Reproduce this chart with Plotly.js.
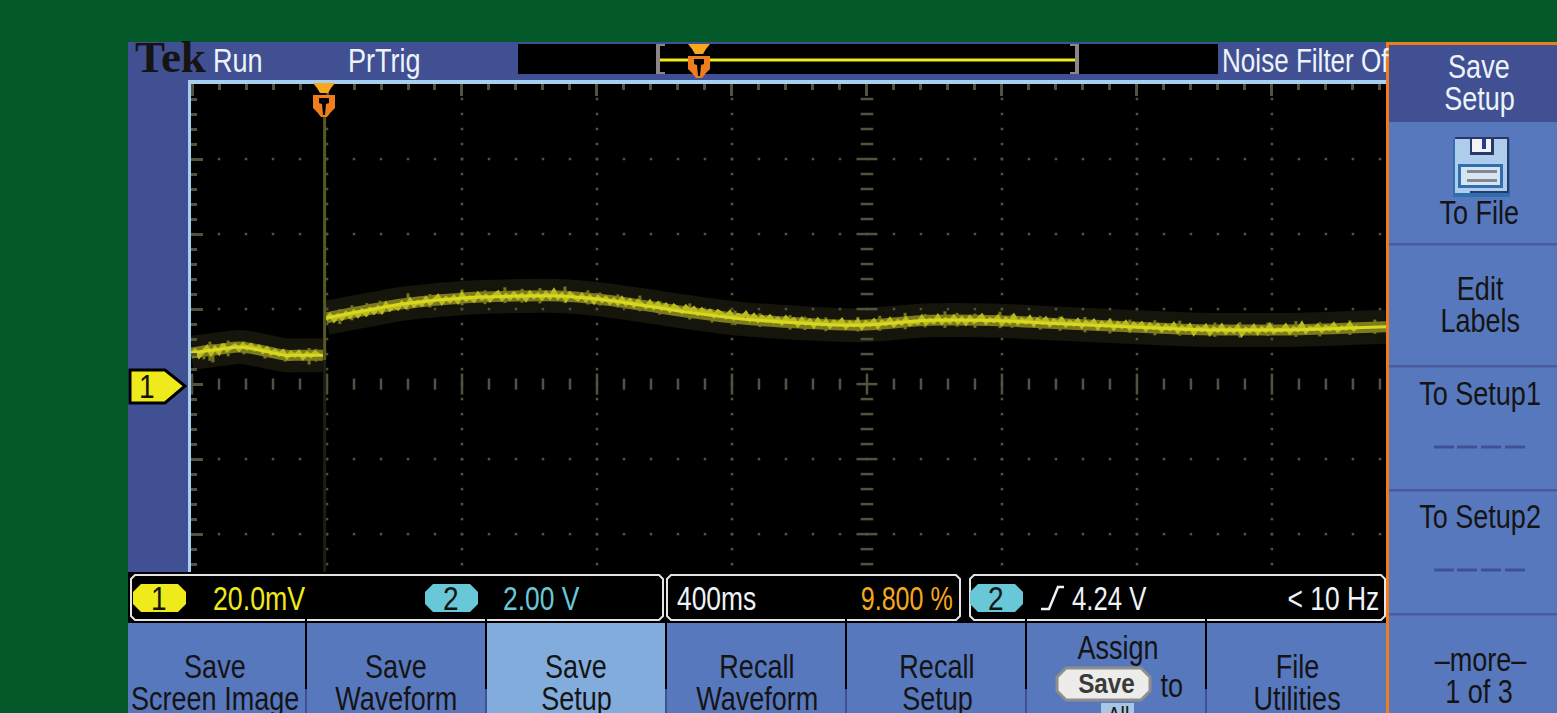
<!DOCTYPE html>
<html><head><meta charset="utf-8">
<script src="https://cdn.plot.ly/plotly-3.0.1.min.js"></script>
<style>html,body{margin:0;padding:0;background:#04592a;overflow:hidden}#c{width:1557px;height:713px}</style>
</head><body><div id="c"></div>
<script>
// Oscilloscope trace, channel 1: time in ms after trigger, level in mV
const envTimePre=[-394,-353,-308,-249,-204,-160,-115,-71,-3];
const envLevelPre=[8.3,8.8,9.3,9.9,9.3,8.5,7.7,7.7,7.7];
const envTimePost=[6,77,151,225,314,403,551,699,818,936,1084,1233,1410,1588,1796,2003,2151,2299,2447,2596,2744,2892,3147];
const envLevelPost=[17.6,18.9,20.1,21.3,22.2,22.9,23.4,23.5,22.6,21.1,19.1,17.4,16.3,15.7,17.0,16.9,16.2,15.6,15.0,14.5,14.4,14.5,15.3];
const noisyPre=[8.0,8.9,7.4,8.6,9.8,8.1,9.6,8.4,10.6,9.0,9.7,10.3,9.2,10.5,9.6,10.4,9.3,9.9,8.6,9.5,8.2,8.9,7.9,8.7,7.2,8.3,7.6,8.5,7.0,8.2,7.5,8.4,7.7];
const noisyPost=[17.2,18.4,17.0,18.3,17.5,18.9,18.0,19.3,18.2,19.6,18.6,20.0,19.1,20.4,19.3,21.3,19.9,20.8,20.2,21.6,20.6,22.4,21.0,21.9,21.2,22.8,21.5,22.4,23.4,21.7,22.9,22.1,23.2,22.0,23.9,22.5,23.1,22.3,24.0,22.8,23.5,22.4,23.6,24.4,22.7,23.7,22.9,24.1,23.0,23.8,22.6,24.3,23.2,23.9,22.8,24.2,23.1,24.8,23.0,23.9,22.5,24.1,23.3,22.6,23.7,22.4,23.3,21.9,23.2,22.2,23.0,21.7,22.6,21.5,22.8,21.4,22.3,20.9,22.1,21.3,20.6,21.9,20.4,21.5,20.2,21.1,19.6,20.9,20.1,19.3,20.6,19.5,20.2,18.8,19.9,18.9,19.5,18.2,19.4,18.7,17.9,19.1,17.6,18.4,17.8,18.9,17.2,18.3,16.9,17.9,17.0,18.0,16.7,17.4,16.3,17.7,16.6,17.2,15.8,17.3,16.2,16.9,15.5,17.1,16.0,16.7,15.4,16.6,15.9,17.0,15.2,16.4,15.7,16.8,15.1,16.5,15.8,16.9,15.3,16.6,16.0,17.2,15.7,16.8,16.1,17.4,16.0,16.7,16.3,17.8,16.2,17.1,16.5,18.0,16.4,17.3,16.6,17.9,16.5,17.5,16.2,17.7,16.6,17.2,18.2,16.4,17.3,16.8,17.9,16.1,17.4,16.6,18.1,16.3,17.2,16.5,17.7,15.9,17.1,16.4,17.4,15.8,16.9,16.2,17.3,15.7,16.6,15.9,17.0,15.4,16.5,15.8,16.8,15.0,16.3,15.6,16.7,14.9,16.2,15.3,16.4,14.7,16.0,15.2,16.1,14.6,15.8,15.0,15.7,14.3,15.5,14.7,15.9,14.1,15.2,14.5,15.6,13.6,15.0,14.4,15.4,13.5,14.9,14.2,15.5,13.8,14.8,14.0,15.3,13.3,14.7,14.1,15.4,13.7,14.9,14.2,15.6,13.9,14.6,14.3,15.5,13.8,14.9,14.4,16.0,14.0,15.0,14.6,15.5,14.2,15.3,14.7,15.9,14.3,15.1,14.8,16.0,14.6,15.4];
const spikeTime=[-356,-338,-329,-284,-237,-175,-115,-44,-24,47,83,127,166,249,314,409,477,536,587,640,714,782,818,871,936,995,1084,1150,1218,1292,1381,1425,1487,1582,1647,1722,1781,1840,1876,1929,2003,2039,2122,2181,2255,2329,2388,2462,2536,2640,2714,2797,2880,2951,3040,3114];
const spikeLow=[6.6,6.2,5.8,7.4,7.9,6.8,6.0,5.2,6.0,16,17,18,18.6,20,20.4,21,21.3,21.6,21.7,21.5,21.6,21.2,20.9,20.4,19.4,18.5,17.2,16.4,15.7,15.2,14.5,14.4,14.1,14,14.2,14.6,15.1,15,15.3,15,14.9,15,14.5,14.2,13.8,13.5,13.6,13,12.9,12.6,12.4,12.8,12.6,12.7,13.1,13.4];
const spikeHigh=[10.3,11.3,10.6,11.6,11.4,9.9,9.2,9.6,9.4,20,21,21.6,22.2,24.2,24,25.2,25,25.8,25.4,25.6,26,25,24.4,23.9,23.6,22.1,21.5,20,19.6,18.9,18.4,18,17.8,17.9,18.2,19,18.7,19.4,19,18.8,19.3,18.6,18.2,18,17.9,17.5,17.2,17,16.9,16.4,16.5,16.4,16.8,16.5,17,17.2];
const timeRange=[-394,3147];
const levelRange=[-50.1,80];
const divMs=400, subMs=80, divMv=20, subMv=4;
const gridColumns=[9,409,809,1209,1609,2009,2409,2809];
const gridRows=[60,40,20,0,-20,-40];

// Instrument texts
const menuBottom=[["Save","Screen Image",215],["Save","Waveform",396],["Save","Setup",576],["Recall","Waveform",757],["Recall","Setup",937],["File","Utilities",1297]];
const menuRight=[["To File",1479,212],["Edit",1480,288],["Labels",1480,320],["To Setup1",1480,393],["To Setup2",1480,516],["\u2013more\u2013",1480,659],["1 of 3",1479,691]];

const W=1557,H=713;
const px=x=>x/W, py=y=>1-y/H;
const FN='"Liberation Sans",sans-serif';
const shapes=[], annos=[], squeeze=[];
function R(x0,y0,x1,y1,fill,line,lw,layer){shapes.push({type:'rect',xref:'paper',yref:'paper',x0:px(x0),x1:px(x1),y0:py(y0),y1:py(y1),fillcolor:fill,line:{color:line||fill,width:line?(lw||1):0},layer:layer||'above'});}
function P(pts,fill,line,lw){const d='M'+pts.map(p=>px(p[0])+','+py(p[1])).join('L')+'Z';shapes.push({type:'path',xref:'paper',yref:'paper',path:d,fillcolor:fill,line:{color:line||fill,width:line?(lw||1):0},layer:'above'});}
function L(x0,y0,x1,y1,c,w){shapes.push({type:'line',xref:'paper',yref:'paper',x0:px(x0),x1:px(x1),y0:py(y0),y1:py(y1),line:{color:c,width:w},layer:'above'});}
function RR(x0,y0,x1,y1,r,fill,line,lw){const s=[];[[x0+r,y0],[x1-r,y0],[x1,y0+r],[x1,y1-r],[x1-r,y1],[x0+r,y1],[x0,y1-r],[x0,y0+r]].forEach(p=>s.push(p));P(s,fill,line,lw);}
// sq = horizontal squeeze relative to a 33px letter; text is set at size and stretched back to 33px tall
function T(t,x,y,size,color,anchor,sq,family,bold){annos.push({text:bold?'<b>'+t+'</b>':t,xref:'paper',yref:'paper',x:px(x),y:py(y),xanchor:anchor||'center',yanchor:'middle',showarrow:false,font:{family:family||FN,size:size,color:color}});squeeze.push([sq===undefined?0.82:sq,anchor||'center',size]);}

const PANEL='#415092',BTN='#5878be',SEL='#82acdc',ORG='#ef7d1e',AMB='#f5a81c',EDGE='#a8d0ee',INK='#141414',WH='#eef3fa',YEL='#eeea1c',TEAL='#68c8d8';
const S=28, TALL=33;

// frame panels
R(128,42,1386,80,PANEL);
R(128,80,188,572,PANEL);
R(188,80,1386,84,EDGE);
R(188,80,191,572,EDGE);
// overview strip
R(518,44,1218,74,'#000000');
L(660,60,1077,60,YEL,3);
R(656,44,660,74,'#8f8484');R(656,44,665,46,'#8f8484');R(656,72,665,74,'#8f8484');
R(1075,44,1079,74,'#8f8484');R(1070,44,1079,46,'#8f8484');R(1070,72,1079,74,'#8f8484');
function trig(cx,top){
 P([[cx-11,top],[cx+11,top],[cx+7,top+5],[cx+4,top+10],[cx-4,top+10],[cx-7,top+5]],AMB);
 P([[cx-11,top+12],[cx+11,top+12],[cx+11,top+25],[cx+7,top+29],[cx+3,top+34],[cx-3,top+34],[cx-7,top+29],[cx-11,top+25]],ORG);
 P([[cx-5,top+15],[cx+5,top+15],[cx+5,top+20],[cx+2,top+21],[cx+1,top+32],[cx-1,top+32],[cx-2,top+21],[cx-5,top+20]],'#000000');
}
trig(699,44);
trig(324,83);
// channel ground marker
P([[130,370],[165,370],[185,386],[165,403],[130,403]],YEL,'#000000',3);
T('1',147,387,S,INK,'center',0.85);
// readout band
R(128,572,1386,623,'#000000');
RR(131,575,663,620,4,'#000000','#e4e4e4',2);
RR(667,575,960,620,4,'#000000','#e4e4e4',2);
RR(970,575,1385,620,4,'#000000','#e4e4e4',2);
RR(133,584,186,612,8,YEL);T('1',159,598,S,INK,'center',0.85);
RR(425,584,478,612,8,TEAL);T('2',451,598,S,INK,'center',0.85);
RR(970,584,1023,612,8,TEAL);T('2',996,598,S,INK,'center',0.85);
T('20.0mV',211,598,S,YEL,'left',0.81);
T('2.00 V',501,598,S,TEAL,'left',0.8);
T('400ms',675,598,S,WH,'left',0.8);
T('9.800 %',955,598,S,AMB,'right',0.76);
shapes.push({type:'path',xref:'paper',yref:'paper',path:'M'+[[1041,609],[1049,609],[1058,587],[1064,587]].map(p=>px(p[0])+','+py(p[1])).join('L'),line:{color:WH,width:2.5},layer:'above'});
T('4.24 V',1070,598,S,WH,'left',0.78);
T('&lt; 10 Hz',1381,598,S,WH,'right',0.8);
// bottom menu
R(128,623,1386,713,BTN);
R(487,623,666,713,SEL);
[306,486,666,846,1026,1206].forEach(x=>{R(x-1,618,x+1,689,'#000000');R(x-1,689,x+1,713,PANEL);});
menuBottom.forEach(m=>{T(m[0],m[2],666,S,INK);T(m[1],m[2],698,S,INK);});
T('Assign',1118,647,S,INK);
RR(1057,668,1150,700,9,'#ececea','#8e8e8e',3);
T('Save',1106,684,27,'#3a3a3a','center',0.9,FN,true);
T('to',1171,685,S,INK);
R(1101,703,1134,713,'#a8c6e6');
T('All',1118,715,24,INK);
// right menu
R(1386,42,1557,713,BTN);
R(1389,45,1557,122,PANEL);
R(1386,42,1557,45,ORG);
R(1386,42,1389,713,ORG);
[243,365,489,613].forEach(y=>R(1389,y,1557,y+2.5,'#4a5a9c'));
T('Save',1479,66,S,WH);T('Setup',1479,99,S,WH);
menuRight.forEach(m=>T(m[0],m[1],m[2],S,INK));
[447,570].forEach(y=>{[1434,1457,1481,1505].forEach(x=>L(x,y,x+20,y,PANEL,3));});
// floppy icon
R(1453,139,1510,197,'#2f6fb0');
R(1455,137,1509,193,'#aecdea');
R(1455,137,1509,139,'#2a3768');R(1507,137,1509,193,'#2a3768');R(1470,191,1509,193,'#2a3768');
R(1470,137,1494,155,'#2a3768');R(1472,139,1491,152,'#f0f4fa');R(1482,139,1486,149,'#2a3a90');
R(1458,164,1503,188,'#2f6fb0');R(1461,167,1500,185,'#d6e4f4');
R(1467,170,1497,173,'#85888e');R(1467,179,1497,182,'#85888e');
// header
T('Tek',133,57,45,'#161412','left',1,'"Liberation Serif",serif',true);
T('Run',211,60,S,WH,'left',0.82);
T('PrTrig',346,60,S,WH,'left',0.82);
T('Noise Filter Of',1220,60,S,WH,'left',0.79);
// trigger line in data coordinates
shapes.push({type:'line',xref:'x',yref:'paper',x0:2,x1:2,y0:py(572),y1:py(360),line:{color:'#1e1e10',width:3},layer:'above'});
shapes.push({type:'line',xref:'x',yref:'paper',x0:2,x1:2,y0:py(360),y1:py(117),line:{color:'#565a22',width:3},layer:'above'});

// graticule
const rowX=[],rowY=[],colX=[],colY=[],midX=[],midY=[],midMajX=[],midMajY=[],cenX=[],cenY=[],cenMajX=[],cenMajY=[];
for(let k=-5;k*subMs+9<=timeRange[1];k++){
 const t=k*subMs+9;
 gridRows.forEach(r=>{if(r!==0){rowX.push(t);rowY.push(r);}});
 if(k%5===0){midMajX.push(t);midMajY.push(0);}else{midX.push(t);midY.push(0);}
}
for(let v=80-subMv;v>=levelRange[0];v-=subMv){
 gridColumns.forEach(c=>{
  if(c===1609){ if(v%divMv===0){cenMajX.push(c);cenMajY.push(v);}else{cenX.push(c);cenY.push(v);} }
  else{colX.push(c);colY.push(v);}
 });
}
const spikeX=[],spikeY=[];
spikeTime.forEach((t,i)=>{spikeX.push(t,t,null);spikeY.push(spikeLow[i],spikeHigh[i],null);});
const DOT='#52523f';
const pre={mode:'lines',x:envTimePre,y:envLevelPre,hoverinfo:'skip'};
const post={mode:'lines',x:envTimePost,y:envLevelPost,hoverinfo:'skip'};
function env(base,c,w){return Object.assign({},base,{line:{shape:'spline',color:c,width:w}});}
function dots(x,y,sym,size,w){return {mode:'markers',x:x,y:y,hoverinfo:'skip',marker:sym==='square'?{symbol:'square',size:size,color:DOT}:{symbol:sym,size:size,line:{color:DOT,width:w}}};}
const traces=[
 env(pre,'#15150c',34),env(post,'#15150c',34),
 dots(rowX,rowY,'square',2.5),dots(colX,colY,'square',2.5),
 dots(midX,midY,'line-ns',8,2.5),dots(midMajX,midMajY,'line-ns',15,2.5),
 dots(cenX,cenY,'line-ew',9,2.5),dots(cenMajX,cenMajY,'line-ew',15,2.5),
 {mode:'lines',x:spikeX,y:spikeY,connectgaps:false,line:{color:'#74741c',width:3},hoverinfo:'skip'},
 env(pre,'#7c7c1e',11),env(post,'#7c7c1e',11),
 {mode:'lines',x0:-394,dx:11.85,y:noisyPre,line:{color:'#bcbc20',width:4,simplify:false},hoverinfo:'skip'},
 {mode:'lines',x0:6,dx:11.85,y:noisyPost,line:{color:'#bcbc20',width:4,simplify:false},hoverinfo:'skip'},
 env(pre,'#d8d81e',3),env(post,'#d8d81e',3)
];
const tc='#52523f';
const layout={width:W,height:H,margin:{l:0,r:0,t:0,b:0},paper_bgcolor:'#04592a',plot_bgcolor:'#000000',showlegend:false,
 xaxis:{domain:[px(191),px(1386)],range:timeRange,side:'top',anchor:'y',showgrid:false,zeroline:false,showticklabels:false,showline:false,ticks:'inside',tick0:9,dtick:divMs,ticklen:12,tickwidth:3,tickcolor:tc,minor:{tick0:9,dtick:subMs,ticks:'inside',ticklen:6,tickwidth:3,tickcolor:tc,showgrid:false}},
 yaxis:{domain:[py(572),py(84)],range:levelRange,anchor:'x',showgrid:false,zeroline:false,showticklabels:false,showline:false,ticks:'inside',tick0:0,dtick:divMv,ticklen:12,tickwidth:3,tickcolor:tc,minor:{tick0:0,dtick:subMv,ticks:'inside',ticklen:6,tickwidth:3,tickcolor:tc,showgrid:false}},
 shapes:shapes,annotations:annos};
Plotly.newPlot('c',traces,layout,{staticPlot:true,displayModeBar:false}).then(gd=>{
 // the instrument's lettering is tall and condensed: reshape each text about its own anchor
 gd.querySelectorAll('.annotation').forEach(a=>{
  const i=+a.getAttribute('data-index'), sq=squeeze[i], t=a.querySelector('text');
  if(!t||!sq||sq[0]===1) return;
  const k=sq[2]===S?TALL/S:1;
  const b=t.getBBox(), ax=sq[1]==='left'?b.x:sq[1]==='right'?b.x+b.width:b.x+b.width/2, ay=b.y+b.height/2;
  t.setAttribute('transform','translate('+ax+','+ay+') scale('+(sq[0]*k)+','+k+') translate('+(-ax)+','+(-ay)+')');
 });
});
</script></body></html>
